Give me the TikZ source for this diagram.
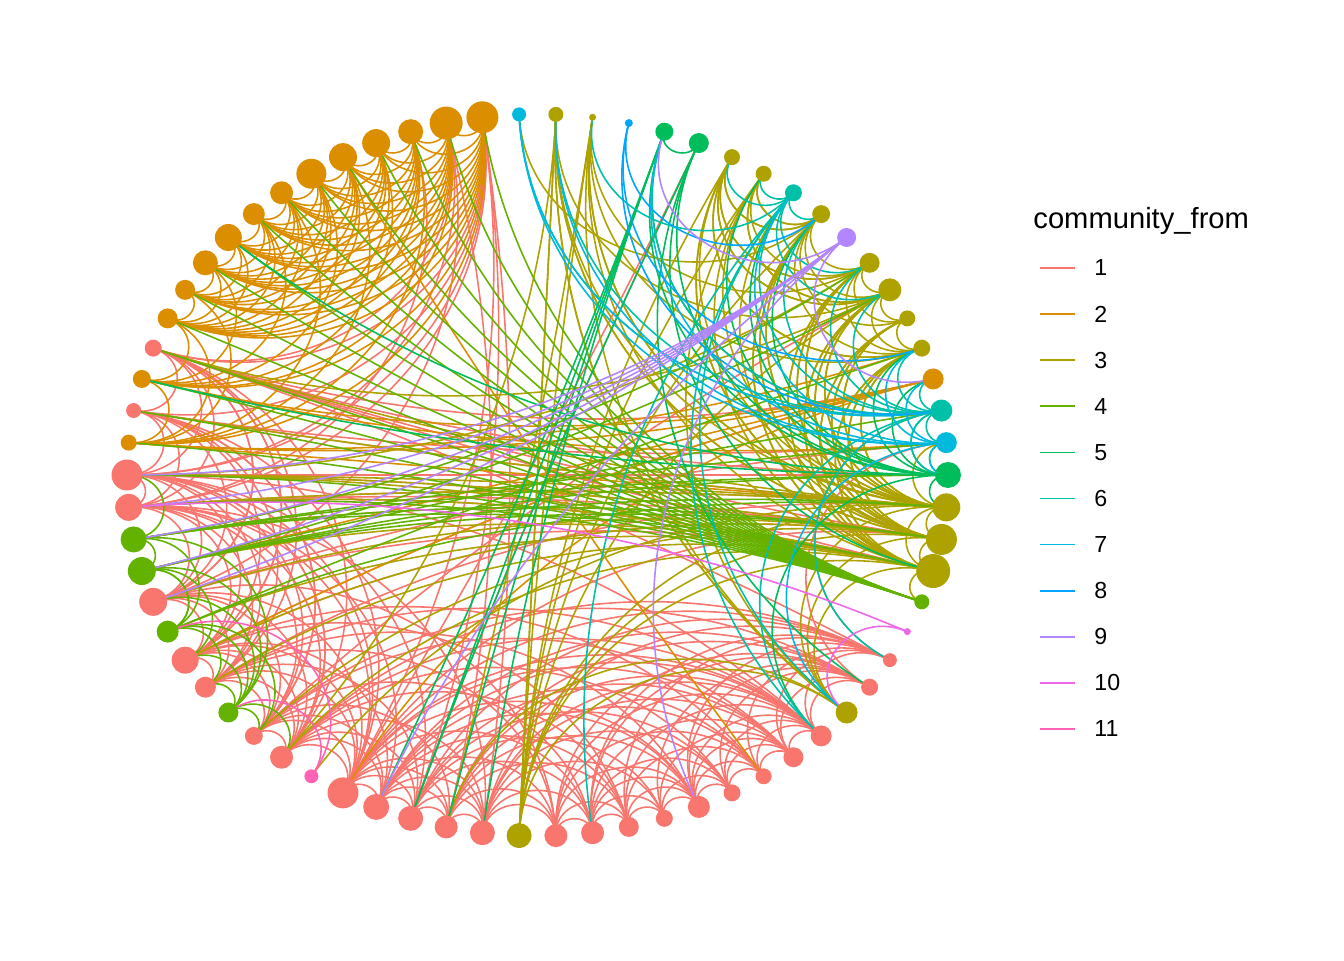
\documentclass[tikz,border=0pt]{standalone}
\usepackage{fontspec}
\setmainfont{Liberation Sans}
\usetikzlibrary{calc,backgrounds}
\definecolor{Com1}{HTML}{F8766D}\definecolor{Com2}{HTML}{DB8E00}\definecolor{Com3}{HTML}{AEA200}
\definecolor{Com4}{HTML}{64B200}\definecolor{Com5}{HTML}{00BD5C}\definecolor{Com6}{HTML}{00C1A7}
\definecolor{Com7}{HTML}{00BADE}\definecolor{Com8}{HTML}{00A6FF}\definecolor{Com9}{HTML}{B385FF}
\definecolor{Com10}{HTML}{EF67EB}\definecolor{Com11}{HTML}{FF63B6}
% arc between two vertices of the ring, bowing in toward the middle
\newcommand{\arcedge}[3]{%
  \pgfmathsetmacro{\dsin}{abs(sin((#2-#1)*18/7))}%
  \pgfmathsetmacro{\kfac}{1-4/3*\dsin/(1+\dsin)}%
  \draw[edge,#3] (n#1.center) .. controls ($(o)!\kfac!(n#1.center)$) and ($(o)!\kfac!(n#2.center)$) .. (n#2.center);}
\begin{document}
\begin{tikzpicture}[dot/.style={circle,inner sep=0pt,minimum size=#1},edge/.style={line width=0.45pt},
  keyline/.style={line width=0.5pt},ttl/.style={anchor=west,font=\fontsize{8.3}{10}\selectfont},
  lab/.style={anchor=west,font=\fontsize{6.6}{8}\selectfont}]
\useasboundingbox (0,0) rectangle (13.44,9.6);
\coordinate (o) at (5.375,4.85);
% vertices, clockwise from the top: index/community/diameter
\foreach \i/\c/\s in {1/2/32,2/7/14,3/3/15,4/3/7,5/8/8,6/5/18,7/5/20,8/3/16,9/3/16,10/6/17,11/3/18,12/9/19,
  13/3/20,14/3/23,15/3/16,16/3/17,17/2/21,18/6/22,19/7/21,20/5/26,21/3/28,22/3/31,23/3/34,24/4/15,25/10/7,
  26/1/14,27/1/17,28/3/22,29/1/21,30/1/20,31/1/16,32/1/17,33/1/22,34/1/17,35/1/20,36/1/23,37/1/23,38/3/25,
  39/1/25,40/1/23,41/1/25,42/1/26,43/1/31,44/11/14,45/1/23,46/1/18,47/4/20,48/1/21,49/1/27,50/4/22,51/1/28,
  52/4/28,53/4/26,54/1/27,55/1/31,56/2/16,57/1/15,58/2/18,59/1/17,60/2/20,61/2/20,62/2/25,63/2/27,64/2/22,
  65/2/23,66/2/30,67/2/28,68/2/28,69/2/25,70/2/33}{
  \pgfmathsetmacro{\ang}{90-(\i-2.5)*36/7}\pgfmathsetmacro{\dia}{\s*0.01}
  \node[dot=\dia cm,fill=Com\c] (n\i) at ($(o)+(\ang:4.105 and 3.61)$) {};}
\begin{scope}[on background layer]
% source/community/{targets}
\foreach \s/\c/\tl in {26/1/{18,29,30,31,33,35,36,39,41,43,45},27/1/{19,29,30,32,33,34,36,37,40,42,46},
  29/1/{30,31,32,33,35,37,39,40,42,43,45,48,55},30/1/{31,32,33,34,36,39,41,43,46},31/1/{32,33,35,37,40,42,49},
  32/1/{33,34,36,39,41,45},33/1/{34,35,36,37,40,42,43,48},34/1/{35,36,39,41},35/1/{36,37,40,42,45,49},
  36/1/{37,39,41,43,46},37/1/{39,40,42,48,51},39/1/{1,40,41,42,43,45},40/1/{41,42,43,46,70},
  41/1/{1,7,42,43,45,48},42/1/{43,45,46,49},43/1/{1,7,22,45,46,48,49,51,54},45/1/{46,48,49,51,54,55},
  46/1/{14,48,49,51,54,55,57},48/1/{21,49,51,54,55,57,59},49/1/{17,22,51,54,55,57,59},
  51/1/{19,23,54,55,57,59,70},54/1/{1,21,22,23,39,42,55,57,59,69},55/1/{1,20,22,41,43,45,57,59,70},
  57/1/{1,19,21,43,46,59},59/1/{1,17,20,22,23,26,45,49,51,70},
  1/2/{56,58,60,61,62,63,64,65,66,67,68,69,70},70/2/{58,60,61,62,63,64,65,66,67,68,69},
  69/2/{56,60,61,62,63,64,65,66,67,68},68/2/{58,60,62,63,64,65,66,67},67/2/{56,60,61,62,63,64,65,66,31},
  66/2/{58,60,61,62,63,64,65},65/2/{56,60,61,62,63,64},64/2/{58,60,61,62,63},63/2/{60,61,62},
  62/2/{58,60,61},61/2/{56,60},60/2/{56,58},58/2/{56,17,19},56/2/{17,21,16},17/2/{49,52,43},
  3/3/{14,22,28,38,45},4/3/{13,16,21,40},8/3/{11,13,14,16,22},9/3/{11,13,14},
  11/3/{2,8,9,13,14,15,16,21,22,23},13/3/{8,14,15,16,21,22,23,55},14/3/{8,9,15,16,21,22,23,59},
  15/3/{16,21,22,23},16/3/{8,21,22,23},21/3/{3,4,8,9,11,13,14,15,16,19,22,44,54,55,57,59},
  22/3/{3,8,10,11,13,14,15,16,23,46,49,51,53,55},23/3/{4,9,11,13,14,15,16,21,24,28,45,48,50,52,54,55},
  28/3/{3,4,9,21,22,40},38/3/{3,4,8,9,11,14,21,22,23,28},
  24/4/{1,54,55,56,57,58,59,60,61,62,63,64,65,66,67,68,69,70},47/4/{45,46,48,49,50,51,52,53},
  50/4/{46,48,52,53,16,21},52/4/{14,18,20,21,22,49,50,53},53/4/{13,19,20,22,23,55},
  6/5/{7,18,20,39,40,41,42},7/5/{20,23,27,41},20/5/{9,10,11,16,17,18,19,21,29,58,63},
  10/6/{4,8,9,11,13,14,18,28,29,36},18/6/{2,3,6,11,13,14,16,17,19,20,26,29},
  2/7/{18,19},19/7/{3,6,10,16,17,20,28},5/8/{11,16,18},12/9/{6,17,33,42,51,52,53,54,55},
  25/10/{28,54},44/11/{47,50}}{
  \foreach \t in \tl {\arcedge{\s}{\t}{Com\c}}}
\end{scope}
% legend
\node[ttl] (title) at (10.21,7.39) {community\_from};
\foreach \k in {1,...,11}{
  \pgfmathsetmacro{\ky}{(960-268-(\k-1)*46.1)/100}
  \coordinate (ka\k) at (10.40,\ky);\coordinate (kb\k) at (10.75,\ky);
  \draw[keyline,Com\k] (ka\k) -- (kb\k);
  \node[lab] (kl\k) at (10.82,\ky) {\k};}
\end{tikzpicture}
\end{document}
